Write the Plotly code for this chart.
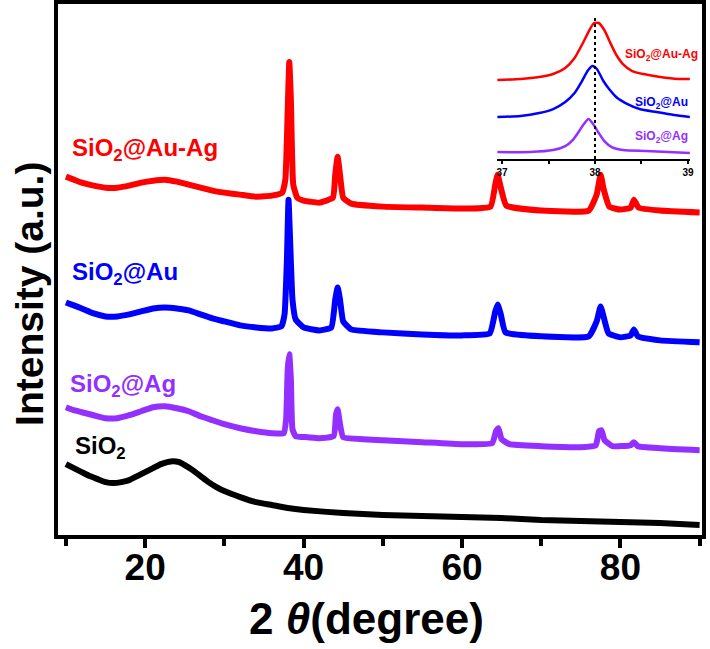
import plotly.graph_objects as go

# ---------------- main XRD patterns (2theta in degree, intensity in a.u.) ----------------
tt_sio2 = [10, 11, 12, 13, 14, 15, 16, 17, 18, 19, 20, 21, 22, 22.8, 23.5, 24.3, 25, 26, 27, 28, 29, 30,
           32, 34, 36, 38, 40, 45, 50, 55, 60, 65, 70, 75, 80, 85, 90]
i_sio2 = [71, 67, 63, 59, 56, 53, 52, 53, 55, 59, 63, 67, 71, 73, 74, 73, 70, 65, 59, 53, 48, 44,
          38, 33, 30, 27, 25, 22, 20, 19, 18, 17, 15, 14, 13, 12, 10]

tt_ag = [10, 11, 12, 13.5, 15, 16.5, 18, 19.5, 21, 22.5, 24, 25.5, 27, 28.5, 30, 32, 34, 36, 37.5, 37.8,
         38.0, 38.2, 38.4, 38.6, 39, 40.5, 42, 43.8, 44.1, 44.3, 44.6, 45, 47.5, 50, 55, 60, 63.8, 64.3,
         64.6, 65, 66, 70, 75, 76.9, 77.3, 77.6, 78, 79, 81.3, 81.7, 82.2, 85, 90]
i_ag = [128, 125, 123, 120, 117, 117, 120, 124, 128, 129, 127, 124, 119, 115, 111, 107, 104, 102, 102, 116,
        166, 181, 156, 106, 99, 98, 97, 99, 121, 126, 111, 98, 96, 95, 93, 91, 92, 104,
        107, 96, 91, 89, 88, 90, 104, 105, 95, 89, 90, 93, 89, 87, 85]

tt_au = [10, 11, 12, 13.5, 15, 16.5, 18, 19.5, 21, 22.5, 24, 25.5, 27, 28.5, 30, 32, 34, 36, 37.2, 37.6,
         37.9, 38.1, 38.3, 38.6, 39, 40, 42, 43.5, 44.0, 44.3, 44.6, 45, 46, 50, 55, 60, 63.5, 64.2,
         64.5, 64.9, 65.5, 70, 76, 77.0, 77.5, 77.9, 78.5, 80, 81.3, 81.7, 82.2, 85, 90]
i_au = [233, 230, 227, 222, 219, 219, 221, 224, 227, 228, 227, 225, 221, 217, 214, 210, 208, 207, 209, 221,
        276, 336, 296, 236, 216, 208, 205, 208, 236, 248, 236, 214, 206, 203, 201, 200, 202, 224,
        231, 221, 203, 199, 199, 214, 229, 218, 202, 198, 200, 206, 199, 195, 193]

tt_auag = [10, 11, 12, 13.5, 15, 16.5, 18, 19.5, 21, 22.5, 24, 25.5, 27, 28.5, 30, 32, 34, 36, 37.3, 37.7,
           38.0, 38.2, 38.4, 38.7, 39.2, 40, 42, 43.7, 44.0, 44.3, 44.6, 45, 46, 50, 55, 60, 63.6, 64.2,
           64.5, 64.9, 65.6, 70, 76, 77.0, 77.5, 77.9, 78.6, 80, 81.3, 81.7, 82.3, 85, 90]
i_auag = [359, 356, 353, 350, 348, 348, 350, 353, 355, 356, 354, 351, 348, 345, 343, 341, 339, 340, 343, 356,
          426, 474, 436, 351, 338, 335, 333, 338, 361, 379, 361, 338, 332, 329, 328, 327, 329, 351,
          361, 348, 330, 325, 325, 341, 361, 346, 329, 326, 328, 336, 328, 325, 323]

# ---------------- inset: (111) reflection region ----------------
in_tt_auag = [36.95, 37.2, 37.4, 37.55, 37.68, 37.78, 37.87, 37.94, 37.99, 38.04, 38.1, 38.16, 38.23,
              38.3, 38.4, 38.52, 38.7, 38.9, 39.02]
in_i_auag = [79, 80, 82, 85, 91, 101, 116, 129, 136, 136, 129, 117, 104, 95, 88, 85, 82, 80, 80]
in_tt_au = [36.95, 37.2, 37.4, 37.55, 37.68, 37.78, 37.86, 37.92, 37.97, 38.02, 38.09, 38.16, 38.24,
            38.35, 38.48, 38.66, 38.85, 39.02]
in_i_au = [42, 43, 46, 50, 57, 66, 78, 88, 93, 90, 78, 69, 61, 55, 50, 47, 44, 42]
in_tt_ag = [36.95, 37.3, 37.55, 37.68, 37.76, 37.83, 37.88, 37.93, 37.98, 38.04, 38.1, 38.18, 38.3,
            38.55, 39.02]
in_i_ag = [7, 7, 9, 13, 19, 28, 35, 40, 35, 26, 18, 12, 9, 8, 6]

names = ["SiO<sub>2</sub>", "SiO<sub>2</sub>@Ag", "SiO<sub>2</sub>@Au", "SiO<sub>2</sub>@Au-Ag"]
colors = ["#000000", "#9430ff", "#0000ff", "#ff0000"]
x_ticks = [20, 40, 60, 80]
inset_ticks = [37, 38, 39]
x_title = "2 <i>θ</i>(degree)"
y_title = "Intensity (a.u.)"

FONT = "Liberation Sans, Arial, sans-serif"

fig = go.Figure()
main_data = [(tt_sio2, i_sio2), (tt_ag, i_ag), (tt_au, i_au), (tt_auag, i_auag)]
for (xs, ys), nm, c in zip(main_data, names, colors):
    fig.add_trace(go.Scatter(x=xs, y=ys, mode="lines", name=nm,
                             line=dict(color=c, width=6, shape="spline", smoothing=0.4),
                             showlegend=False, xaxis="x", yaxis="y"))

inset_data = [(in_tt_ag, in_i_ag), (in_tt_au, in_i_au), (in_tt_auag, in_i_auag)]
for (xs, ys), nm, c in zip(inset_data, names[1:], colors[1:]):
    fig.add_trace(go.Scatter(x=xs, y=ys, mode="lines", name=nm,
                             line=dict(color=c, width=2.5, shape="spline", smoothing=0.6),
                             showlegend=False, xaxis="x2", yaxis="y2"))

# series labels in the main panel
label_pos = [(10.9, 88), (10.3, 150), (10.5, 262), (10.5, 386)]
for (lx, ly), nm, c in zip(label_pos, names, colors):
    fig.add_annotation(x=lx, y=ly, xref="x", yref="y", text=nm, showarrow=False,
                       xanchor="left", yanchor="middle",
                       font=dict(family=FONT, size=24, color=c, weight="bold"))

# labels in inset
inset_label_pos = [(38.72, 22), (38.72, 56), (38.72, 104)]
for (lx, ly), nm, c in zip(inset_label_pos, names[1:], colors[1:]):
    fig.add_annotation(x=lx, y=ly, xref="x2", yref="y2", text=nm, showarrow=False,
                       xanchor="center", yanchor="middle",
                       font=dict(family=FONT, size=12, color=c, weight="bold"))

# axis titles
fig.add_annotation(x=0.4783, y=-0.157, xref="paper", yref="paper", text=x_title, showarrow=False,
                   xanchor="center", yanchor="middle",
                   font=dict(family=FONT, size=44, color="black", weight="bold"))
fig.add_annotation(x=-0.0435, y=0.454, xref="paper", yref="paper", text=y_title, showarrow=False,
                   textangle=-90, xanchor="center", yanchor="middle",
                   font=dict(family=FONT, size=39, color="black", weight="bold"))

# dotted reference line at 38 deg in inset
fig.add_shape(type="line", x0=38, x1=38, y0=0, y1=143, xref="x2", yref="y2",
              line=dict(color="black", width=2, dash="dot"))

fig.update_layout(
    width=710, height=649,
    margin=dict(l=58, r=8, t=4, b=114),
    paper_bgcolor="white", plot_bgcolor="white",
    font=dict(family=FONT, color="black"),
    xaxis=dict(range=[9.0, 90.3], tickvals=x_ticks, ticks="outside", ticklen=9, tickwidth=4,
               tickcolor="black", showline=True, linewidth=4, linecolor="black", mirror=True,
               showgrid=False, zeroline=False, automargin=False, ticklabelstandoff=-12,
               minor=dict(tickvals=[10, 30, 50, 70, 90], ticks="outside", ticklen=7, tickwidth=4,
                          tickcolor="black", showgrid=False),
               tickfont=dict(family=FONT, size=37, weight="bold")),
    yaxis=dict(range=[0, 532], showticklabels=False, ticks="", showline=True, linewidth=4,
               linecolor="black", mirror=True, showgrid=False, zeroline=False, automargin=False),
    xaxis2=dict(domain=[0.6817, 0.9814], anchor="y2", range=[36.946, 39.022], tickvals=inset_ticks,
                ticks="outside", ticklen=3, tickwidth=1.5, tickcolor="black", showline=True,
                linewidth=1.5, linecolor="black", showgrid=False, zeroline=False, automargin=False,
                minor=dict(tickvals=[37.5, 38.5], ticks="outside", ticklen=3, tickwidth=1.5,
                           tickcolor="black"),
                tickfont=dict(family=FONT, size=10, weight="bold")),
    yaxis2=dict(domain=[0.708, 0.9887], anchor="x2", range=[0, 149], visible=False),
)

fig.write_html("out.html", config={"displayModeBar": False},
               post_script="document.body.style.margin='0';")
